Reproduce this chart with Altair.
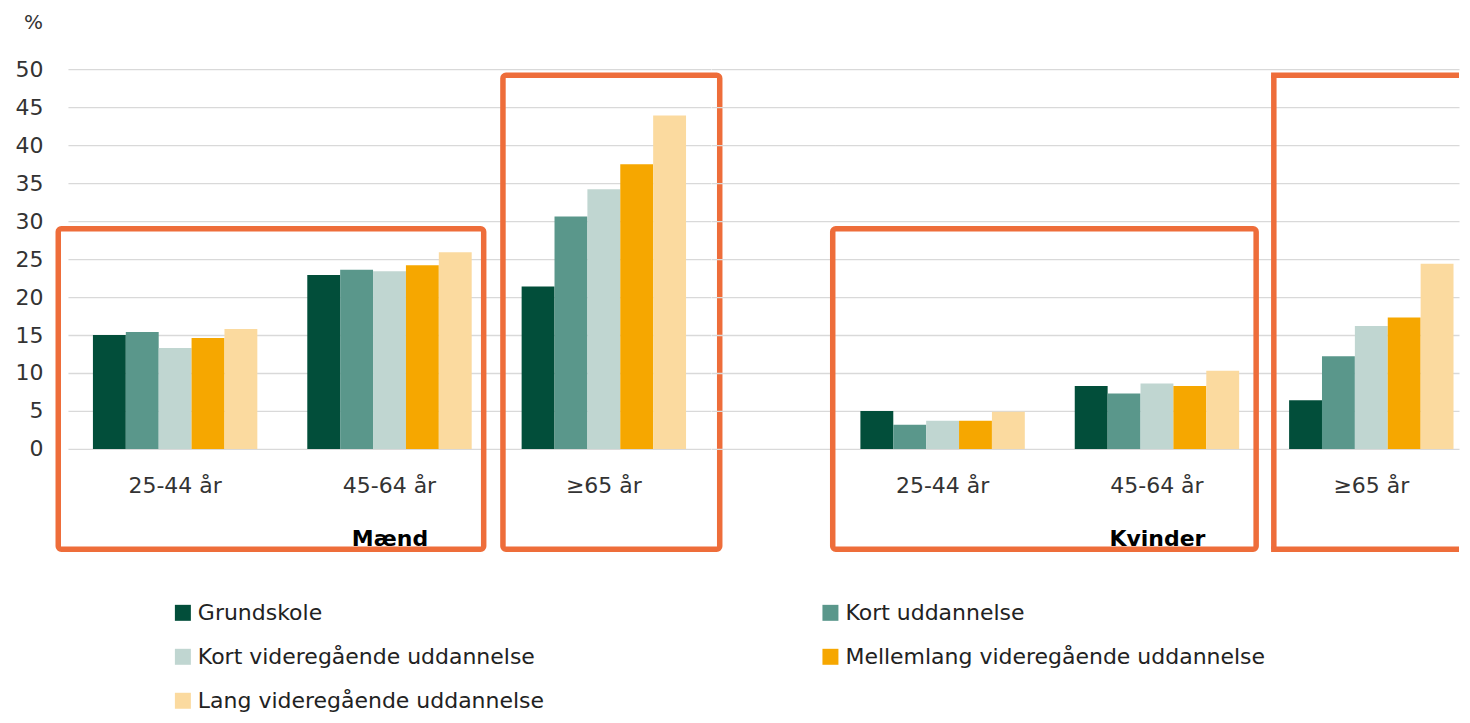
import altair as alt
import pandas as pd

# ---------------- data ----------------
SEXES = ["Mænd", "Kvinder"]
AGES = ["25-44 år", "45-64 år", "≥65 år"]
EDUCATION = [
    "Grundskole",
    "Kort  uddannelse",
    "Kort videregående uddannelse",
    "Mellemlang videregående uddannelse",
    "Lang videregående uddannelse",
]
# rows = age groups, columns = education levels (%)
MAEND_VALUES = [
    [15.0, 15.4, 13.3, 14.6, 15.8],
    [22.9, 23.6, 23.4, 24.2, 25.9],
    [21.4, 30.6, 34.2, 37.5, 43.9],
]
KVINDER_VALUES = [
    [5.0, 3.2, 3.7, 3.7, 4.9],
    [8.3, 7.3, 8.6, 8.3, 10.3],
    [6.4, 12.2, 16.2, 17.3, 24.4],
]
Y_TICKS = [0, 5, 10, 15, 20, 25, 30, 35, 40, 45, 50]

# highlight boxes (annotation): sex, first age group, last age group, top value, bottom value
BOX_SEX = ["Mænd", "Mænd", "Kvinder", "Kvinder"]
BOX_FROM = ["25-44 år", "≥65 år", "25-44 år", "≥65 år"]
BOX_TO = ["45-64 år", "≥65 år", "45-64 år", "≥65 år"]
BOX_TOP = [29.0, 49.2, 29.0, 49.2]
BOX_BOTTOM = [-13.2, -13.2, -13.2, -13.2]

# ---------------- style ----------------
COLORS = ["#024e3a", "#5a978b", "#c0d6d1", "#f6a700", "#fbda9f"]
LEGEND_ORDER = [0, 2, 4, 1, 3]  # legend fills column by column
ORANGE = "#ee6d3a"
GRID = "#d9d9d9"
FONT = "DejaVu Sans"
STEP = 214.5
PAD_INNER = 0.233
PLOT_H = 380
GAP_W = 124
K_W = 624
# pixel nudges of the box edges (left, right)
BOX_NUDGE = [(-34.7, 12.0), (-18.7, 33.7), (-27.7, 17.0), (-15.3, 0)]
BOX_STROKE = 5.5

rows = []
for sex, table in zip(SEXES, [MAEND_VALUES, KVINDER_VALUES]):
    for age, vals in zip(AGES, table):
        for edu, v in zip(EDUCATION, vals):
            rows.append({"sex": sex, "age": age, "edu": edu, "value": v})
df = pd.DataFrame(rows)

boxes = pd.DataFrame({
    "id": list(range(len(BOX_SEX))),
    "sex": BOX_SEX, "start": BOX_FROM, "end": BOX_TO,
    "top": BOX_TOP, "bottom": BOX_BOTTOM,
})

yscale = alt.Scale(domain=[0, 50], nice=False, zero=False)

m_w = 3 * STEP
xscale_m = alt.Scale(domain=AGES, paddingInner=PAD_INNER, paddingOuter=PAD_INNER / 2, align=0.5)
po_k = (K_W / STEP - (3 - PAD_INNER)) / 2
align_k = (STEP * PAD_INNER / 2) / (K_W - STEP * (3 - PAD_INNER))
xscale_k = alt.Scale(domain=AGES, paddingInner=PAD_INNER, paddingOuter=po_k, align=align_k)

legend_domain = [EDUCATION[i] for i in LEGEND_ORDER]
legend_range = [COLORS[i] for i in LEGEND_ORDER]

legend = alt.Legend(
    title=None, orient="none", legendX=104, legendY=533, columns=2, direction="vertical",
    columnPadding=275, rowPadding=22, symbolType="square", symbolSize=256,
    symbolStrokeWidth=0, symbolOpacity=1, labelFontSize=22, labelColor="#222222",
    labelOffset=4, labelLimit=700, gridAlign="each", padding=0,
)


def y_axis(main):
    if main:
        return alt.Axis(
            values=Y_TICKS, grid=True, gridColor=GRID, gridWidth=1.3, ticks=False,
            domain=False, labelPadding=25, labelFontSize=22, labelColor="#333333",
            title="%", titleAngle=0, titleX=-35, titleY=-47, titleBaseline="middle",
            titleAlign="center", titleFontWeight="normal", titleFontSize=20,
            titleColor="#333333",
        )
    return alt.Axis(values=Y_TICKS, grid=True, gridColor=GRID, gridWidth=1.3,
                    ticks=False, domain=False, labels=False, title=None)


def x_axis(sex):
    return alt.Axis(
        title=sex, labelAngle=0, labelFontSize=22, labelColor="#333333",
        labelPadding=27, ticks=False, domain=False, grid=False,
        titleFontSize=22, titleFontWeight="bold", titleColor="#000000",
        titlePadding=32, titleX=STEP * 1.5)


def panel(sex, width, xscale, main):
    xa = x_axis(sex)
    ya = y_axis(main)
    bars = alt.Chart(df).transform_filter(alt.datum.sex == sex).mark_bar().encode(
        x=alt.X("age:N", scale=xscale, sort=AGES, axis=xa),
        xOffset=alt.XOffset("edu:N", sort=EDUCATION,
                            scale=alt.Scale(domain=EDUCATION, paddingInner=0, paddingOuter=0)),
        y=alt.Y("value:Q", scale=yscale, axis=ya),
        color=alt.Color("edu:N", scale=alt.Scale(domain=legend_domain, range=legend_range),
                        legend=legend),
    )
    layers = [bars]
    for i, s in enumerate(BOX_SEX):
        if s != sex:
            continue
        left, right = BOX_NUDGE[i]
        src = alt.Chart(boxes).transform_filter(alt.datum.id == i)
        xs = alt.X("start:N", scale=xscale, bandPosition=0, axis=xa)
        if i < 3:
            layers.append(src.mark_rect(
                fillOpacity=0, stroke=ORANGE, strokeWidth=BOX_STROKE, cornerRadius=3,
                xOffset=left, x2Offset=right,
            ).encode(
                x=xs, x2=alt.X2("end:N", bandPosition=1),
                y=alt.Y("top:Q", scale=yscale, axis=ya), y2="bottom:Q",
            ))
        else:
            # open box continuing past the right edge of the picture
            layers.append(src.mark_rule(color=ORANGE, strokeWidth=BOX_STROKE, xOffset=left).encode(
                x=xs, y=alt.Y("top:Q", scale=yscale, axis=ya), y2="bottom:Q"))
            for fld in ["top", "bottom"]:
                layers.append(src.mark_rule(color=ORANGE, strokeWidth=BOX_STROKE,
                                            xOffset=left - BOX_STROKE / 2).encode(
                    x=xs, x2=alt.value("width"),
                    y=alt.Y(f"{fld}:Q", scale=yscale, axis=ya)))
    return alt.layer(*layers).properties(width=width, height=PLOT_H)


gap = alt.Chart(pd.DataFrame({"v": [0]})).mark_point(opacity=0).encode(
    y=alt.Y("v:Q", scale=yscale, axis=y_axis(False))
).properties(width=GAP_W, height=PLOT_H)

chart = alt.hconcat(
    panel("Mænd", m_w, xscale_m, True),
    gap,
    panel("Kvinder", K_W, xscale_k, False),
    spacing=0, bounds="flush",
).resolve_scale(
    x="independent", y="independent", color="shared"
).resolve_axis(
    x="independent", y="independent"
).properties(
    padding={"left": 7, "top": 4, "right": 0, "bottom": 0}
).configure(font=FONT).configure_view(strokeWidth=0)

chart.save("out.html", embed_options={"renderer": "svg", "actions": False})
